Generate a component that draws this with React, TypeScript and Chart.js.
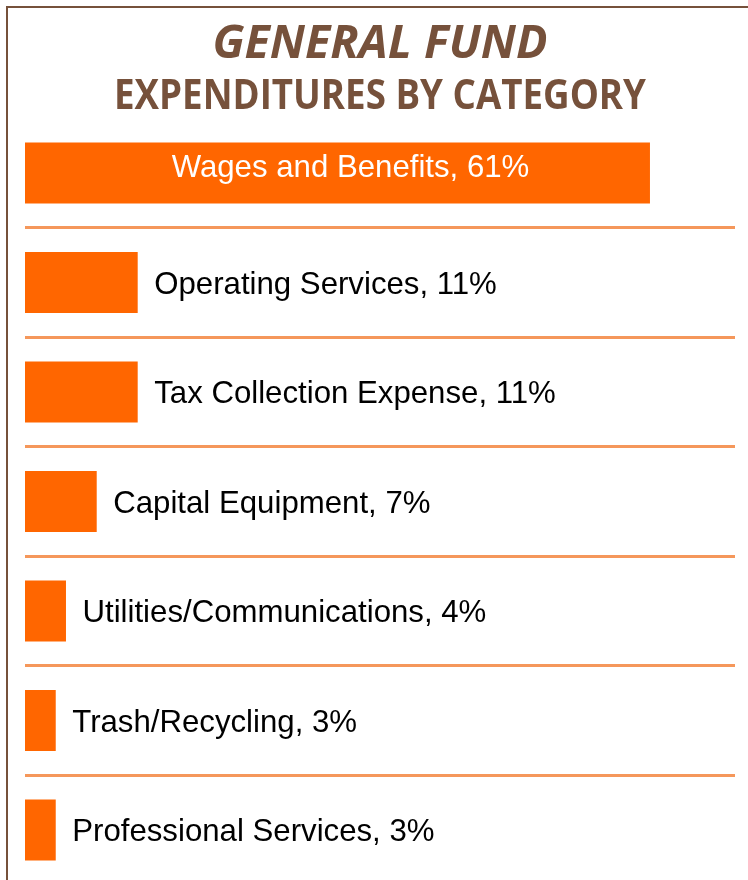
import React, { useEffect, useRef } from "react";
import { Chart, registerables } from "chart.js";

Chart.register(...registerables);

const categories = [
  "Wages and Benefits",
  "Operating Services",
  "Tax Collection Expense",
  "Capital Equipment",
  "Utilities/Communications",
  "Trash/Recycling",
  "Professional Services",
];
const shares = [61, 11, 11, 7, 4, 3, 3];
const titleLines = ["GENERAL FUND", "EXPENDITURES BY CATEGORY"];

const BROWN = "#76513B";
const ORANGE = "#FF6600";
const SEP = "#F5975B";

const titlePlugin = {
  id: "customTitle",
  afterDraw(chart: any) {
    const ctx = chart.ctx;
    const specs = [
      { text: titleLines[0], font: "italic 700 46px 'Open Sans'", y: 58, w: 335 },
      { text: titleLines[1], font: "700 41px 'Open Sans'", y: 108.5, w: 532 },
    ];
    ctx.save();
    ctx.fillStyle = BROWN;
    ctx.textAlign = "center";
    ctx.textBaseline = "alphabetic";
    for (const s of specs) {
      ctx.font = s.font;
      const m = ctx.measureText(s.text).width;
      const sx = s.w / m;
      ctx.save();
      ctx.translate(380, s.y);
      ctx.scale(sx, 1);
      ctx.fillText(s.text, 0, 0);
      ctx.restore();
    }
    ctx.restore();
  },
};

const labelPlugin = {
  id: "barLabels",
  afterDatasetsDraw(chart: any) {
    const ctx = chart.ctx;
    const meta = chart.getDatasetMeta(0);
    ctx.save();
    ctx.font = "31.2px 'Liberation Sans', Arial, sans-serif";
    ctx.textBaseline = "alphabetic";
    meta.data.forEach((bar: any, i: number) => {
      const text = `${categories[i]}, ${shares[i]}%`;
      const w = ctx.measureText(text).width;
      const barLen = bar.x - bar.base;
      if (w + 20 < barLen) {
        ctx.fillStyle = "#FFFFFF";
        ctx.textAlign = "center";
        ctx.fillText(text, (bar.base + bar.x) / 2 + 13, bar.y + 4);
      } else {
        ctx.fillStyle = "#000000";
        ctx.textAlign = "left";
        ctx.fillText(text, bar.x + 16.5, bar.y + 11);
      }
    });
    ctx.restore();
  },
};

export default function App() {
  const ref = useRef<HTMLCanvasElement | null>(null);
  useEffect(() => {
    if (!ref.current) return;
    const chart = new Chart(ref.current, {
      type: "bar",
      data: {
        labels: categories,
        datasets: [
          {
            data: shares,
            backgroundColor: ORANGE,
            borderWidth: 0,
            barPercentage: 0.557,
            categoryPercentage: 1,
          },
        ],
      },
      options: {
        indexAxis: "y",
        responsive: false,
        animation: false,
        layout: { padding: { left: 25, right: 13, top: 118.25, bottom: 15.25 } },
        plugins: { legend: { display: false }, tooltip: { enabled: false }, title: { display: false } },
        scales: {
          x: { display: false, min: 0, max: 69.3 },
          y: {
            display: true,
            ticks: { display: false },
            border: { display: false },
            grid: {
              drawTicks: false,
              lineWidth: 3,
              color: (c: any) => (c.index === 0 ? "rgba(0,0,0,0)" : SEP),
            },
          },
        },
      },
      plugins: [titlePlugin, labelPlugin],
    });
    return () => chart.destroy();
  }, []);
  return (
    <>
      <div
        style={{
          position: "fixed",
          left: 6,
          top: 6,
          width: 742,
          height: 874,
          borderLeft: `2px solid ${BROWN}`,
          borderTop: `2px solid ${BROWN}`,
          boxSizing: "border-box",
        }}
      />
      <canvas
        ref={ref}
        width={748}
        height={900}
        style={{ position: "fixed", left: 0, top: 0, width: 748, height: 900 }}
      />
    </>
  );
}
